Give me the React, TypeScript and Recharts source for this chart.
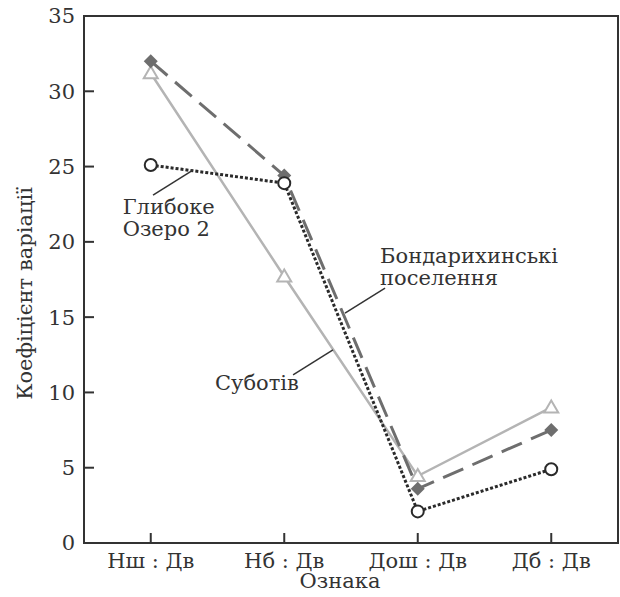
import React from "react";
import {
  LineChart,
  Line,
  XAxis,
  YAxis,
  ReferenceArea,
  ReferenceLine,
  ReferenceDot,
} from "recharts";

const categories = ["Нш : Дв", "Нб : Дв", "Дош : Дв", "Дб : Дв"];
const glybokeValues = [25.1, 23.9, 2.1, 4.9];
const bondarykhaValues = [32.0, 24.4, 3.6, 7.5];
const subotivValues = [31.2, 17.7, 4.45, 9.0];
const yTicks = [0, 5, 10, 15, 20, 25, 30, 35];

const FONT = "DejaVu Serif";
const FS = 21;
const INK = "#333";

const chartData = categories.map((name, i) => ({
  idx: i,
  name,
  glyboke: glybokeValues[i],
  bondarykha: bondarykhaValues[i],
  subotiv: subotivValues[i],
}));

const OpenCircle = (props: any) => {
  const { cx, cy } = props;
  return <circle cx={cx} cy={cy} r={6} fill="#fff" stroke="#2a2a2a" strokeWidth={2} />;
};

const FilledDiamond = (props: any) => {
  const { cx, cy } = props;
  const s = 7;
  return (
    <polygon
      points={`${cx},${cy - s} ${cx + s},${cy} ${cx},${cy + s} ${cx - s},${cy}`}
      fill="#6e6e6e"
    />
  );
};

const OpenTriangle = (props: any) => {
  const { cx, cy } = props;
  return (
    <polygon
      points={`${cx},${cy - 7} ${cx + 7},${cy + 5} ${cx - 7},${cy + 5}`}
      fill="#fff"
      stroke="#b4b4b4"
      strokeWidth={2}
    />
  );
};

// text block for the in-plot series names, anchored at its first baseline
const NoteText = (props: any) => {
  const { viewBox, lines } = props;
  const x = viewBox.x + viewBox.width / 2;
  const y = viewBox.y + viewBox.height / 2;
  return (
    <text x={x} y={y} fill={INK} style={{ fontFamily: FONT, fontSize: FS }}>
      {lines.map((l: string, i: number) => (
        <tspan key={i} x={x} dy={i === 0 ? 0 : 22}>
          {l}
        </tspan>
      ))}
    </text>
  );
};

const YTitle = (props: any) => {
  const { viewBox } = props;
  const x = viewBox.x + 25;
  const y = viewBox.y + viewBox.height / 2 + 14;
  return (
    <text
      x={x}
      y={y}
      transform={`rotate(-90 ${x} ${y})`}
      textAnchor="middle"
      dominantBaseline="central"
      fill={INK}
      style={{ fontFamily: FONT, fontSize: FS }}
    >
      Коефіцієнт варіації
    </text>
  );
};

const XTitle = (props: any) => {
  const { viewBox } = props;
  const x = viewBox.x + viewBox.width / 2 - 11;
  const y = viewBox.y + viewBox.height - 9;
  return (
    <text x={x} y={y} textAnchor="middle" fill={INK} style={{ fontFamily: FONT, fontSize: FS }}>
      Ознака
    </text>
  );
};

export default function App() {
  return (
    <div
      style={{
        position: "absolute",
        left: 0,
        top: 0,
        background: "#fff",
        fontFamily: FONT,
      }}
    >
      <LineChart
        width={620}
        height={597}
        data={chartData}
        margin={{ top: 16, right: 2, bottom: 0, left: 0 }}
        style={{ fontFamily: FONT }}
      >
        <XAxis
          dataKey="idx"
          type="number"
          domain={[-0.5, 3.5]}
          ticks={[0, 1, 2, 3]}
          tickFormatter={(v) => categories[v]}
          height={54}
          tickSize={-10}
          tickMargin={20}
          axisLine={{ stroke: INK, strokeWidth: 2 }}
          tickLine={{ stroke: INK, strokeWidth: 2 }}
          tick={{ fill: INK, fontSize: FS, style: { fontFamily: FONT } }}
          label={<XTitle />}
        />
        <YAxis
          type="number"
          domain={[0, 35]}
          ticks={yTicks}
          width={84}
          tickSize={-10}
          tickMargin={19}
          axisLine={{ stroke: INK, strokeWidth: 2 }}
          tickLine={{ stroke: INK, strokeWidth: 2 }}
          tick={{ fill: INK, fontSize: FS, style: { fontFamily: FONT } }}
          label={<YTitle />}
        />
        <ReferenceArea
          x1={-0.5}
          x2={3.5}
          y1={0}
          y2={35}
          fill="none"
          fillOpacity={0}
          stroke={INK}
          strokeWidth={2}
        />
        <Line
          dataKey="subotiv"
          stroke="#b4b4b4"
          strokeWidth={2.5}
          dot={<OpenTriangle />}
          activeDot={false}
          isAnimationActive={false}
        />
        <Line
          dataKey="bondarykha"
          stroke="#6e6e6e"
          strokeWidth={3}
          strokeDasharray="22 10"
          dot={<FilledDiamond />}
          activeDot={false}
          isAnimationActive={false}
        />
        <Line
          dataKey="glyboke"
          stroke="#2a2a2a"
          strokeWidth={3}
          strokeDasharray="3 2"
          dot={<OpenCircle />}
          activeDot={false}
          isAnimationActive={false}
        />
        {/* leader lines for the in-plot labels */}
        <ReferenceLine
          segment={[
            { x: 0.017, y: 23.1 },
            { x: 0.316, y: 24.77 },
          ]}
          stroke={INK}
          strokeWidth={1.5}
        />
        <ReferenceLine
          segment={[
            { x: 1.755, y: 16.93 },
            { x: 1.455, y: 15.27 },
          ]}
          stroke={INK}
          strokeWidth={1.5}
        />
        <ReferenceLine
          segment={[
            { x: 1.066, y: 11.16 },
            { x: 1.365, y: 12.82 },
          ]}
          stroke={INK}
          strokeWidth={1.5}
        />
        <ReferenceDot
          x={-0.21}
          y={21.85}
          r={0}
          stroke="none"
          label={<NoteText lines={["Глибоке", "Озеро 2"]} />}
        />
        <ReferenceDot
          x={1.718}
          y={18.6}
          r={0}
          stroke="none"
          label={<NoteText lines={["Бондарихинські", "поселення"]} />}
        />
        <ReferenceDot
          x={0.481}
          y={10.16}
          r={0}
          stroke="none"
          label={<NoteText lines={["Суботів"]} />}
        />
      </LineChart>
    </div>
  );
}
